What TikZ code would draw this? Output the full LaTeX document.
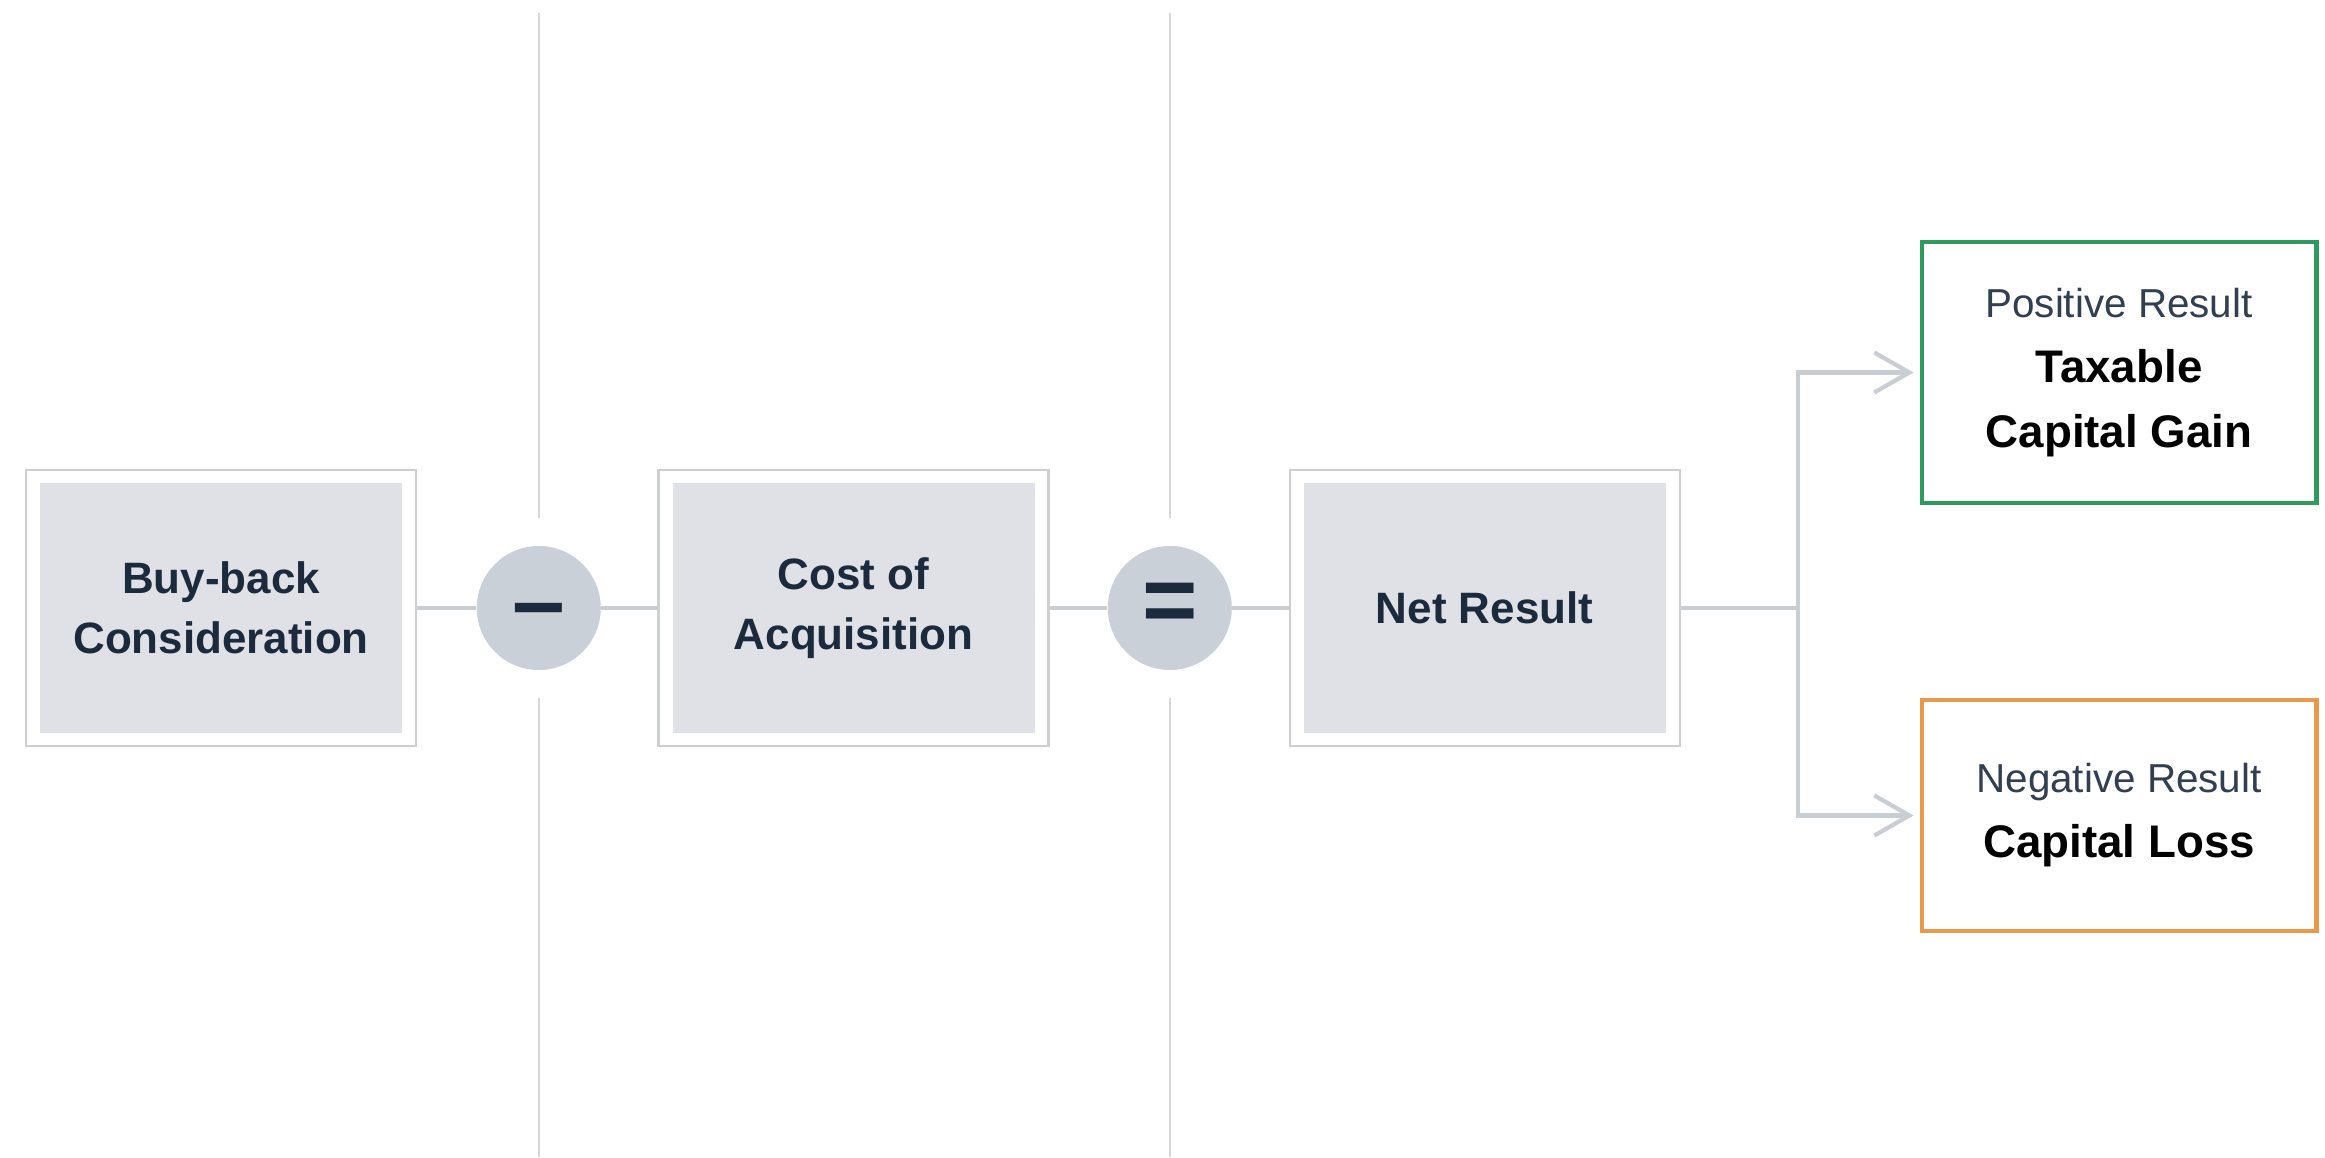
\documentclass[tikz,border=0pt]{standalone}
\usepackage{fontspec}
\setmainfont{Liberation Sans}
\usetikzlibrary{arrows.meta,positioning}
\definecolor{navy}{HTML}{1B2A3C}
\definecolor{boxgray}{HTML}{DFE1E6}
\definecolor{framegray}{HTML}{CDCFD2}
\definecolor{opgray}{HTML}{CAD0D8}
\definecolor{linkgray}{HTML}{C9CED4}
\definecolor{rulegray}{HTML}{D6D8DB}
\definecolor{gaingreen}{HTML}{2E9A5C}
\definecolor{lossorange}{HTML}{E8994A}
\tikzset{
	termbox/.style={draw=framegray, line width=0.6pt, fill=white, minimum width=3.9cm, minimum height=2.76cm,
		text=navy, align=center, font=\bfseries\fontsize{12.5}{17}\selectfont,
		path picture={\fill[boxgray] ([shift={(0.14,0.13)}]path picture bounding box.south west) rectangle ([shift={(-0.14,-0.13)}]path picture bounding box.north east);}},
	opcircle/.style={circle, fill=opgray, minimum size=1.24cm, inner sep=0pt, text=navy, font=\bfseries\fontsize{27}{27}\selectfont},
	resultbox/.style={draw=#1, line width=1.4pt, fill=white, minimum width=3.94cm, align=center, text=black, font=\fontsize{13}{18.5}\selectfont},
	link/.style={draw=linkgray, line width=1.2pt},
	rule/.style={draw=rulegray, line width=0.6pt}
}
\begin{document}
\begin{tikzpicture}
	\useasboundingbox[fill=white] (0,0) rectangle (23.25,11.57);
	\coordinate (top) at (0,11.44);
	\coordinate (bottom) at (0,0);
	\node[termbox] (buyback) at (2.21,5.49) {Buy-back\\Consideration};
	\node[opcircle, right=0.59cm of buyback, text height=14.4pt, text depth=0pt] (minus) {–};
	\node[termbox, right=0.56cm of minus] (cost) {Cost of\\Acquisition};
	\node[opcircle, right=0.575cm of cost] (equals) {=};
	\node[termbox, right=0.56cm of equals] (net) {Net Result};
	\coordinate[right=1.17cm of net.east] (split);
	\node[resultbox=gaingreen, minimum height=2.61cm] (gain) at (21.19,7.845) {{\color{navy!90}\mdseries\fontsize{11.5}{18.5}\selectfont Positive Result}\\\textbf{Taxable}\\\textbf{Capital Gain}};
	\node[resultbox=lossorange, minimum height=2.31cm] (loss) at (21.19,3.415) {{\color{navy!90}\mdseries\fontsize{11.5}{18.5}\selectfont Negative Result}\\\textbf{Capital Loss}};
	\draw[rule] (minus |- top) -- ([yshift=2.7mm]minus.north);
	\draw[rule] ([yshift=-2.7mm]minus.south) -- (minus |- bottom);
	\draw[rule] (equals |- top) -- ([yshift=2.7mm]equals.north);
	\draw[rule] ([yshift=-2.7mm]equals.south) -- (equals |- bottom);
	\draw[link] (buyback) -- (minus);
	\draw[link] (minus) -- (cost);
	\draw[link] (cost) -- (equals);
	\draw[link] (equals) -- (net);
	\draw[link] (net) -- (split);
	\draw[link, -{Straight Barb[length=3.5mm,width=4mm]}, shorten >=0.6mm] (split) |- (gain.west);
	\draw[link, -{Straight Barb[length=3.5mm,width=4mm]}, shorten >=0.6mm] (split) |- (loss.west);
\end{tikzpicture}
\end{document}
